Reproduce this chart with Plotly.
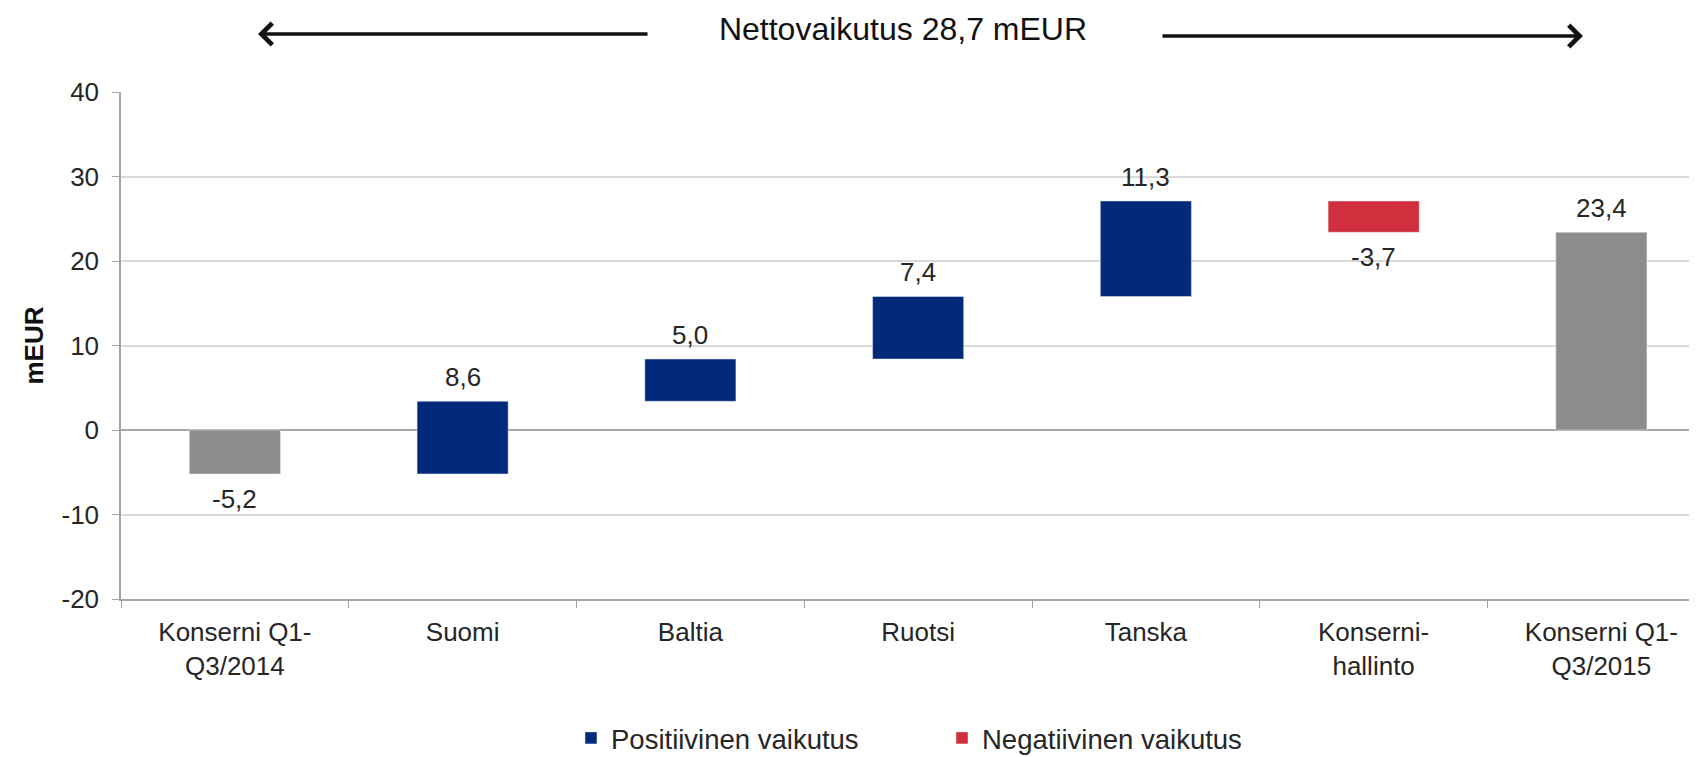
import plotly.graph_objects as go

# --- data ---
categories = ["Konserni Q1-<br>Q3/2014", "Suomi", "Baltia", "Ruotsi", "Tanska",
              "Konserni-<br>hallinto", "Konserni Q1-<br>Q3/2015"]
start_value = -5.2
deltas = [8.6, 5.0, 7.4, 11.3, -3.7]          # Suomi .. Konsernihallinto
end_value = 23.4
net_effect = "28,7"
y_ticks = [-20, -10, 0, 10, 20, 30, 40]

COLORS = {
    "total": "#8c8c8c",
    "pos": "#022a7a",
    "neg": "#d12f3d",
    "grid": "#d9d9d9",
    "axis": "#a6a6a6",
    "text": "#262626",
}
FONT = "Liberation Sans, Arial, sans-serif"


def fmt(v):
    return f"{v:.1f}".replace(".", ",")


# waterfall bases from the running total
bases, run = [], start_value
for d in deltas:
    bases.append(run)
    run += d

tot_y = [start_value] + [None] * len(deltas) + [end_value]
pos_y = [None] + [d if d > 0 else None for d in deltas] + [None]
neg_y = [None] + [d if d < 0 else None for d in deltas] + [None]
base_all = [0] + bases + [0]

common = dict(x=categories, width=0.4, hoverinfo="skip")

fig = go.Figure()
fig.add_trace(go.Bar(y=tot_y, marker_color=COLORS["total"],
                     showlegend=False, name="Konserni", **common))
fig.add_trace(go.Bar(y=pos_y, base=base_all, marker_color=COLORS["pos"],
                     name="Positiivinen vaikutus", **common))
fig.add_trace(go.Bar(y=neg_y, base=base_all, marker_color=COLORS["neg"],
                     name="Negatiivinen vaikutus", **common))

# value labels at the bar ends
values = [start_value] + deltas + [end_value]
for cat, v, b in zip(categories, values, base_all):
    fig.add_annotation(x=cat, y=b + v, text=fmt(v), showarrow=False,
                       yanchor="middle", yshift=24 if v > 0 else -25,
                       font=dict(size=26, color=COLORS["text"], family=FONT))

# page is drawn with an 8px body margin
W, H = 1689, 749
L, R, T, B = 113, 0, 84, 158
pw, ph = W - L - R, H - T - B


def px_x(x):
    return (x - L) / pw


def px_y(y):
    return (H - B - y) / ph


# arrows around the headline
for head, tail, yy in [(250, 641, 26), (1575, 1153, 28)]:
    fig.add_annotation(x=px_x(head), y=px_y(yy), xref="paper", yref="paper",
                       ax=tail - head, ay=0, axref="pixel", ayref="pixel",
                       text="", showarrow=True, arrowhead=4, arrowsize=1.2,
                       arrowwidth=3.5, arrowcolor="#111111")

fig.update_layout(
    width=W, height=H,
    margin=dict(l=L, r=R, t=T, b=B, autoexpand=False),
    paper_bgcolor="white", plot_bgcolor="white",
    font=dict(family=FONT, size=26, color=COLORS["text"]),
    barmode="overlay",
    title=dict(text=f"Nettovaikutus {net_effect} mEUR", x=895 / W, xanchor="center",
               y=1 - 21 / H, yanchor="middle", font=dict(size=32, color="#111111")),
    xaxis=dict(range=[-0.5, -0.5 + pw / 227.75], showgrid=False, showline=True,
               linecolor=COLORS["axis"], linewidth=1.5, ticks="outside",
               tickson="boundaries", ticklen=7, tickcolor=COLORS["axis"],
               ticklabelstandoff=9,
               tickfont=dict(size=26, color=COLORS["text"]), fixedrange=True),
    yaxis=dict(range=[-20, 40], tickvals=y_ticks, ticktext=[str(t) for t in y_ticks],
               showgrid=True, gridcolor=COLORS["grid"],
               gridwidth=1.5, zeroline=True, zerolinecolor=COLORS["axis"], zerolinewidth=1.5,
               showline=True, linecolor=COLORS["axis"], linewidth=1.5,
               ticks="outside", ticklen=7, tickcolor=COLORS["axis"], ticklabelstandoff=8,
               tickfont=dict(size=26, color=COLORS["text"]),
               title=dict(text="<b>mEUR</b>", font=dict(size=26, color="#111111"), standoff=10)),
    legend=dict(orientation="h", x=563 / W, xref="container", y=1 - 730 / H,
                yref="container", yanchor="middle", xanchor="left",
                entrywidth=326, font=dict(size=27.5, color=COLORS["text"])),
)

fig.write_html("out.html")
